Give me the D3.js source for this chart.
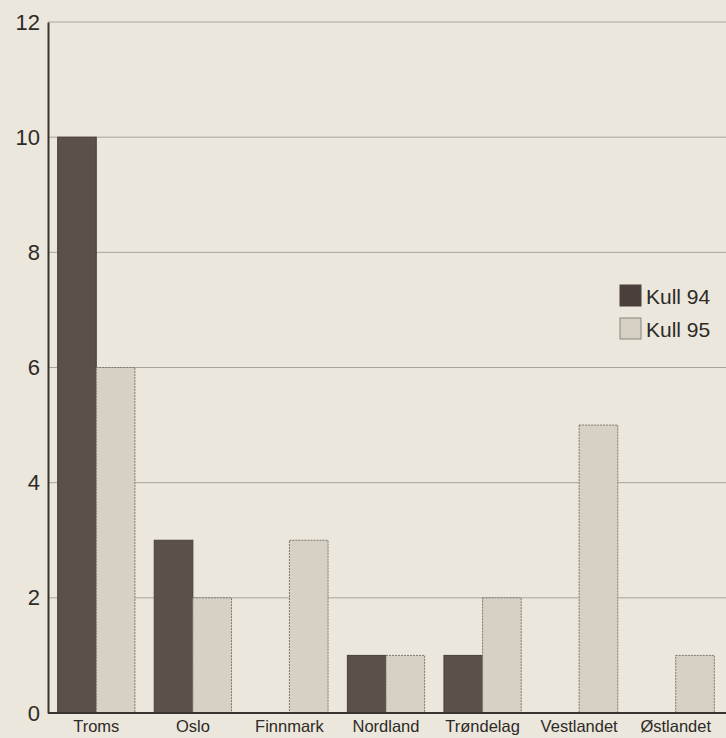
<!DOCTYPE html>
<html lang="no">
<head>
<meta charset="UTF-8"/>
<title>Kull 94 / Kull 95</title>
<script src="https://d3js.org/d3.v7.min.js"></script>
<style>
    body { margin: 0; background: #ebe7dc; }
    text { font-family: "Liberation Sans", Arial, sans-serif; fill: #2e2a27; }
    .grid line { stroke: #a9a49b; stroke-width: 1px; }
</style>
</head>
<body>
<script>
// data
var regions = ["Troms", "Oslo", "Finnmark", "Nordland", "Trøndelag", "Vestlandet", "Østlandet"];
var kull94 = [10, 3, 0, 1, 1, 0, 0];
var kull95 = [6, 2, 3, 1, 2, 5, 1];
var seriesNames = ["Kull 94", "Kull 95"];
var yTicks = [0, 2, 4, 6, 8, 10, 12];

var W = 726, H = 738;
var margin = {top: 22, right: 2, bottom: 25, left: 48},
    width = W - margin.left - margin.right,
    height = H - margin.top - margin.bottom;

var svg = d3.select("body").append("svg")
    .attr("width", W).attr("height", H);

var g = svg.append("g")
    .attr("transform", "translate(" + margin.left + "," + margin.top + ")");

var x = d3.scaleBand().domain(regions).range([0, width]).paddingInner(0.2).paddingOuter(0.1);
var xs = d3.scaleBand().domain(seriesNames).range([0, x.bandwidth()]);
var y = d3.scaleLinear().domain([0, 12]).range([height, 0]);

// gridlines
g.append("g").attr("class", "grid")
    .selectAll("line").data(yTicks.filter(function (d) { return d > 0; }))
    .enter().append("line")
    .attr("x1", 0).attr("x2", width + margin.right)
    .attr("y1", function (d) { return y(d); })
    .attr("y2", function (d) { return y(d); });

// bars
var rows = regions.map(function (r, i) {
    return {region: r, values: [{s: "Kull 94", v: kull94[i]}, {s: "Kull 95", v: kull95[i]}]};
});

var groups = g.selectAll(".grp").data(rows).enter().append("g")
    .attr("transform", function (d) { return "translate(" + x(d.region) + ",0)"; });

groups.selectAll("rect").data(function (d) { return d.values.filter(function (e) { return e.v > 0; }); })
    .enter().append("rect")
    .attr("x", function (d) { return xs(d.s); })
    .attr("y", function (d) { return y(d.v); })
    .attr("width", xs.bandwidth())
    .attr("height", function (d) { return height - y(d.v); })
    .attr("fill", function (d) { return d.s === "Kull 94" ? "#5b504a" : "#d6d0c5"; })
    .attr("stroke", function (d) { return d.s === "Kull 94" ? "#4a403b" : "#7d776f"; })
    .attr("stroke-width", 1)
    .attr("stroke-dasharray", function (d) { return d.s === "Kull 94" ? null : "2,1"; });

// axes
var yAxis = g.append("g").call(d3.axisLeft(y).tickValues(yTicks).tickSize(0).tickPadding(8));
yAxis.select(".domain").attr("stroke", "#3a3431").attr("stroke-width", 2);
yAxis.selectAll("text").style("font-size", "22px").attr("fill", "#3a3532");

var xAxis = g.append("g").attr("transform", "translate(0," + height + ")")
    .call(d3.axisBottom(x).tickSize(0).tickPadding(7));
xAxis.select(".domain").attr("d", "M0,0H" + (width + margin.right))
    .attr("stroke", "#3a3431").attr("stroke-width", 2);
xAxis.selectAll("text").style("font-size", "16.5px").attr("fill", "#2e2a27");

// legend
var legend = svg.append("g").attr("transform", "translate(620,285)");
var li = legend.selectAll("g").data(seriesNames).enter().append("g")
    .attr("transform", function (d, i) { return "translate(0," + (i * 33) + ")"; });
li.append("rect").attr("width", 21).attr("height", 21)
    .attr("fill", function (d, i) { return i === 0 ? "#4a403b" : "#d6d0c5"; })
    .attr("stroke", function (d, i) { return i === 0 ? "#4a403b" : "#8a847b"; });
li.append("text").attr("x", 26).attr("y", 19).style("font-size", "21px").text(function (d) { return d; });
</script>
</body>
</html>
